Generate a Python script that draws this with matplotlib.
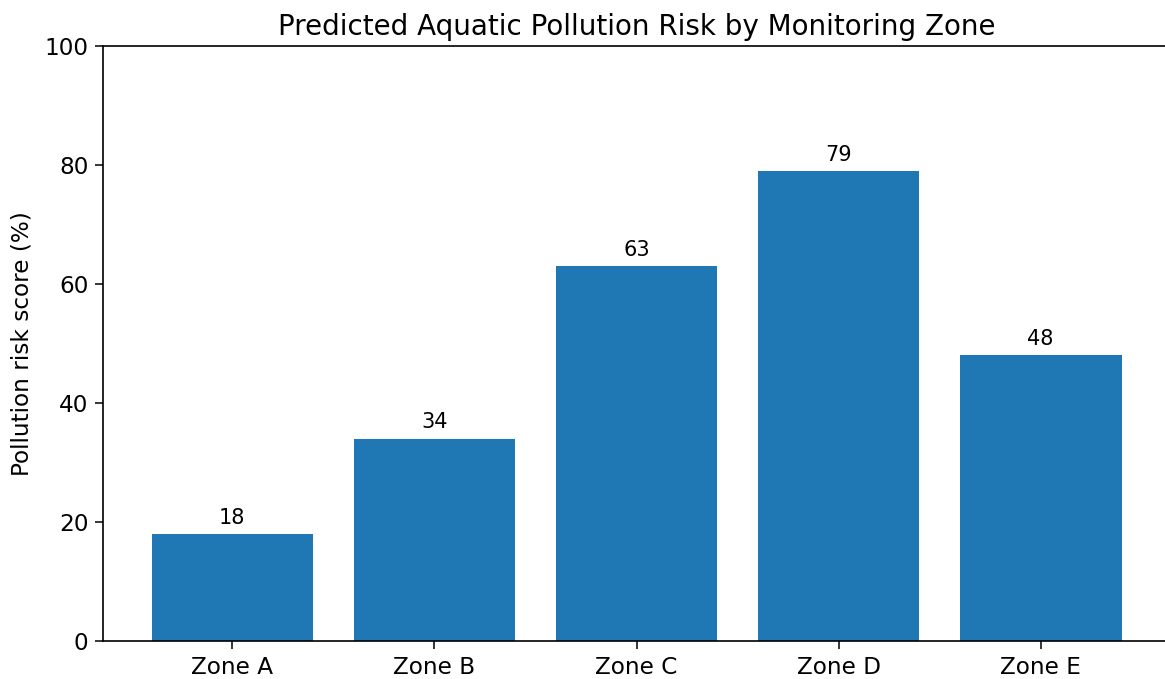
import matplotlib
matplotlib.use("Agg")
import matplotlib.pyplot as plt

zones = ["Zone A", "Zone B", "Zone C", "Zone D", "Zone E"]
risk = [18, 34, 63, 79, 48]

W, H = 1165, 679
fig = plt.figure(figsize=(W / 100, H / 100), dpi=100)
ax = fig.add_axes([103 / W, 1 - 641 / H, (1170 - 103) / W, (641 - 46) / H])

bars = ax.bar(zones, risk, width=0.8, color="#1f77b4")
ax.set_xlim(-0.64, 4.64)
ax.set_ylim(0, 100)
ax.set_yticks([0, 20, 40, 60, 80, 100])
ax.tick_params(labelsize=16.7, length=5.5, width=1.1, pad=5)
for b, v in zip(bars, risk):
    ax.annotate(f"{v}", (b.get_x() + b.get_width() / 2, v), xytext=(0, 4.5),
                textcoords="offset points", ha="center", va="bottom", fontsize=15)
ax.set_ylabel("Pollution risk score (%)", fontsize=16.7, labelpad=8)
ax.set_title("Predicted Aquatic Pollution Risk by Monitoring Zone", fontsize=20, pad=8)
ax.spines["right"].set_visible(False)
for s in ["top", "left", "bottom"]:
    ax.spines[s].set_linewidth(1.2)

fig.savefig("out.png", dpi=100)
